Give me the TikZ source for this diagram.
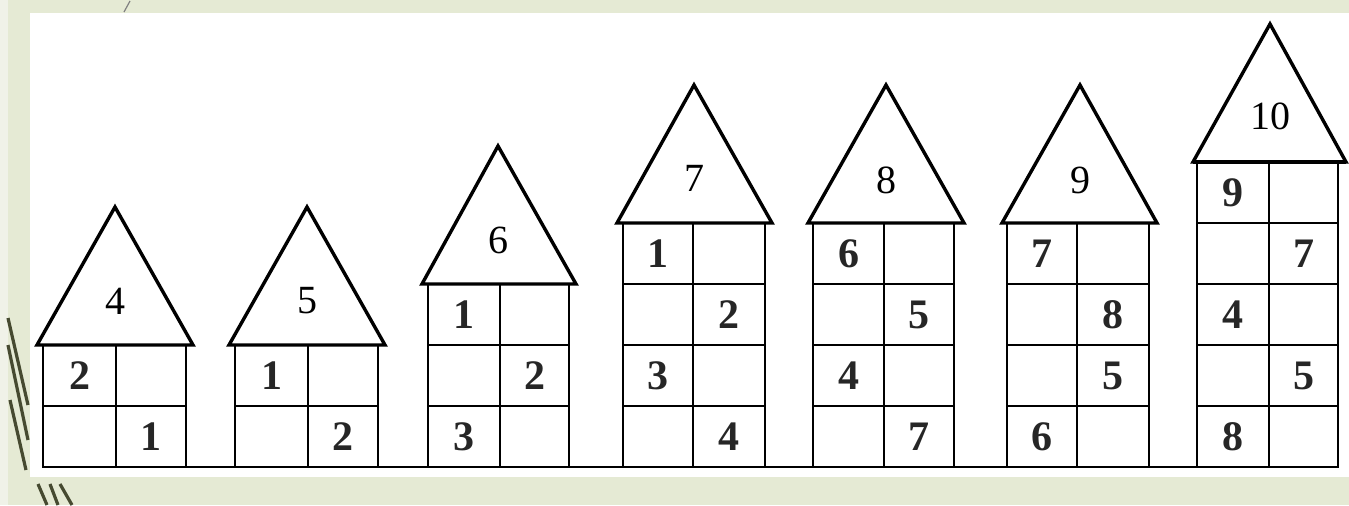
\documentclass[tikz,border=0pt]{standalone}
\usepackage{fontspec}
\setmainfont{Liberation Serif}
\usepackage{tikz}
\usetikzlibrary{positioning}
\definecolor{slidegreen}{RGB}{229,234,212}
\definecolor{slideedge}{RGB}{240,242,232}
\definecolor{slidestroke}{RGB}{70,74,48}

\begin{document}
\begin{tikzpicture}[
  x=0.5pt, y=-0.5pt,
  wall/.style={line width=1.2pt, black},
  roof/.style={line width=1.7pt, black, line join=miter},
  roofnum/.style={font=\fontsize{20}{20}\selectfont, inner sep=0pt},
  cellnum/.style={font=\fontsize{21}{21}\selectfont\bfseries, text=black!85, inner sep=0pt},
  deco/.style={line width=1.6pt, slidestroke},
]
\useasboundingbox (0,0) rectangle (1349,505);

% slide background
\fill[slidegreen] (0,0) rectangle (1349,505);
\fill[slideedge] (0,0) rectangle (8,505);
\fill[white] (30,13) rectangle (1349,477);
\draw[deco] (8,318) -- (28,405);
\draw[deco] (8,345) -- (28,440);
\draw[deco] (10,400) -- (26,470);
\draw[deco] (38,484) -- (47,505);
\draw[deco] (50,484) -- (58,505);
\draw[deco] (60,484) -- (72,505);
\draw[line width=0.6pt, gray] (124,12) -- (130,1);

% ground
\draw[wall] (43,467) coordinate (g0) -- (1338,467) coordinate (g1);

% House 4
\draw[wall] (43,345) rectangle (186,467);
\draw[wall] (116,345) -- (116,467) (43,406) -- (186,406);
\draw[roof] (37,345) -- (115,207) -- (193,345) -- cycle;
\node[roofnum] (r4) at (115,301) {4};
\node[cellnum] (h4a) at (79.5,375.5) {2};
\node[cellnum] (h4b) at (151,436.5) {1};

% House 5
\draw[wall] (235,345) rectangle (378,467);
\draw[wall] (308,345) -- (308,467) (235,406) -- (378,406);
\draw[roof] (229,345) -- (307,207) -- (385,345) -- cycle;
\node[roofnum] (r5) at (307,301) {5};
\node[cellnum] (h5a) at (271.5,375.5) {1};
\node[cellnum] (h5b) at (343,436.5) {2};

% House 6
\draw[wall] (428,284) rectangle (569,467);
\draw[wall] (500,284) -- (500,467) (428,345) -- (569,345) (428,406) -- (569,406);
\draw[roof] (422,284) -- (498,146) -- (576,284) -- cycle;
\node[roofnum] (r6) at (498,240) {6};
\node[cellnum] (h6a) at (464,314.5) {1};
\node[cellnum] (h6b) at (534.5,375.5) {2};
\node[cellnum] (h6c) at (464,436.5) {3};

% House 7
\draw[wall] (623,223) rectangle (765,467);
\draw[wall] (693,223) -- (693,467) (623,284) -- (765,284) (623,345) -- (765,345) (623,406) -- (765,406);
\draw[roof] (617,223) -- (694,85) -- (772,223) -- cycle;
\node[roofnum] (r7) at (694,178) {7};
\node[cellnum] (h7a) at (658,253.5) {1};
\node[cellnum] (h7b) at (729,314.5) {2};
\node[cellnum] (h7c) at (658,375.5) {3};
\node[cellnum] (h7d) at (729,436.5) {4};

% House 8
\draw[wall] (813,223) rectangle (954,467);
\draw[wall] (884,223) -- (884,467) (813,284) -- (954,284) (813,345) -- (954,345) (813,406) -- (954,406);
\draw[roof] (808,223) -- (886,85) -- (964,223) -- cycle;
\node[roofnum] (r8) at (886,180) {8};
\node[cellnum] (h8a) at (848.5,253.5) {6};
\node[cellnum] (h8b) at (919,314.5) {5};
\node[cellnum] (h8c) at (848.5,375.5) {4};
\node[cellnum] (h8d) at (919,436.5) {7};

% House 9
\draw[wall] (1007,223) rectangle (1149,467);
\draw[wall] (1077,223) -- (1077,467) (1007,284) -- (1149,284) (1007,345) -- (1149,345) (1007,406) -- (1149,406);
\draw[roof] (1002,223) -- (1080,85) -- (1157,223) -- cycle;
\node[roofnum] (r9) at (1080,180) {9};
\node[cellnum] (h9a) at (1042,253.5) {7};
\node[cellnum] (h9b) at (1113,314.5) {8};
\node[cellnum] (h9c) at (1113,375.5) {5};
\node[cellnum] (h9d) at (1042,436.5) {6};

% House 10
\draw[wall] (1197,162) rectangle (1338,467);
\draw[wall] (1269,162) -- (1269,467) (1197,223) -- (1338,223) (1197,284) -- (1338,284)
  (1197,345) -- (1338,345) (1197,406) -- (1338,406);
\draw[roof] (1193,162) -- (1270,24) -- (1346,162) -- cycle;
\draw[line width=2.2pt] (1193,162) -- (1346,162);
\node[roofnum] (r10) at (1270,116) {10};
\node[cellnum] (h10a) at (1233,192.5) {9};
\node[cellnum] (h10b) at (1303.5,253.5) {7};
\node[cellnum] (h10c) at (1233,314.5) {4};
\node[cellnum] (h10d) at (1303.5,375.5) {5};
\node[cellnum] (h10e) at (1233,436.5) {8};

\end{tikzpicture}
\end{document}
